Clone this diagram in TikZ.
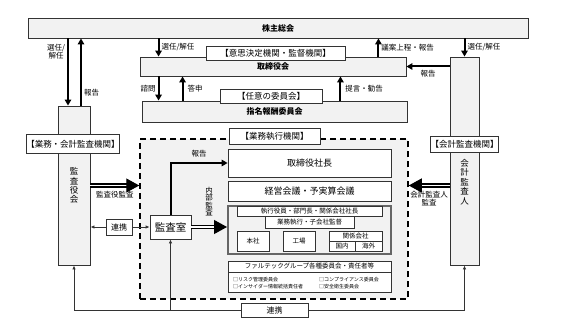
\documentclass[tikz,border=0pt]{standalone}
\usepackage{fontspec}
\setmainfont{Noto Sans CJK JP}
\usetikzlibrary{arrows.meta,positioning,calc}
\definecolor{boxgray}{HTML}{F2F2F2}
\definecolor{dark}{HTML}{333333}
\tikzset{
  box/.style={draw=dark, fill=boxgray, line width=0.9pt, inner sep=0pt, font=\fontsize{8}{9}\selectfont\bfseries},
  tallbox/.style={box, align=center, font=\fontsize{8.5}{9.2}\selectfont},
  tagbox/.style={draw=dark, fill=white, line width=0.8pt, inner sep=0pt, font=\fontsize{8.5}{9}\selectfont},
  whitebox/.style={draw=dark, fill=white, line width=0.8pt, inner sep=0pt, font=\fontsize{9}{10}\selectfont},
  smallbox/.style={whitebox, font=\fontsize{6.5}{7}\selectfont},
  listitem/.style={anchor=west, inner sep=0pt, font=\fontsize{5}{6}\selectfont},
  lbl/.style={inner sep=2pt, font=\fontsize{7.5}{8.5}\selectfont},
  arrow/.style={-{Triangle[length=6pt,width=6.5pt]}, line width=2pt, draw=black},
  dblarrow/.style={-{Triangle[length=13pt,width=14pt]}, draw=black, double=white, double distance=1.8pt, line width=1.2pt},
  thinarrow/.style={-{Latex[length=4pt,width=3.5pt]}, line width=0.8pt, draw=dark}
}
\begin{document}
\begin{tikzpicture}[x=1pt,y=-1pt]
  \useasboundingbox (0,0) rectangle (570,321);
  \node[box, minimum width=500, minimum height=20] (sh) at (278,28) {株主総会};
  \node[box, minimum width=266, minimum height=19] (board) at (273,66.5) {取締役会};
  \node[tagbox, minimum width=139, minimum height=14] (boardtag) at (275.5,53) {【意思決定機関・監督機関】};
  \node[box, minimum width=265, minimum height=21] (nom) at (274.5,111.5) {指名報酬委員会};
  \node[tagbox, minimum width=102, minimum height=14] (nomtag) at (271,96) {【任意の委員会】};

  \node[tallbox, minimum width=32, minimum height=159] (aud) at (74,185.5) {監\\査\\役\\会};
  \node[tagbox, minimum width=92, minimum height=19] (audtag) at (73,144) {【業務・会計監査機関】};
  \node[tallbox, minimum width=29, minimum height=208] (acct) at (464.5,161) {};
  \node[inner sep=0pt, align=center, font=\fontsize{8.5}{9.4}\selectfont] (accttext) at (464.5,182) {会\\計\\監\\査\\人};
  \node[tagbox, minimum width=67, minimum height=16] (accttag) at (464.5,144) {【会計監査機関】};

  \node[draw=black, fill=boxgray, line width=1.5pt, dash pattern=on 6pt off 4pt, minimum width=268, minimum height=160] (exec) at (274,219) {};
  \node[tagbox, minimum width=91, minimum height=16] (exectag) at (274.5,136) {【業務執行機関】};
  \node[whitebox, minimum width=163, minimum height=28] (ceo) at (309.5,163) {取締役社長};
  \node[whitebox, minimum width=163, minimum height=20] (mgmt) at (309.5,191) {経営会議・予実算会議};
  \node[draw=black!60, fill=boxgray, line width=2pt, minimum width=163, minimum height=48] (grp) at (309.5,230) {};
  \node[smallbox, minimum width=145, minimum height=10] (officers) at (309.5,211.5) {執行役員・部門長・関係会社社長};
  \node[smallbox, minimum width=89, minimum height=12] (supv) at (309.5,222) {業務執行・子会社監督};
  \node[smallbox, minimum width=32, minimum height=20] (hq) at (253,241) {本社};
  \node[smallbox, minimum width=32, minimum height=20] (plant) at (299,241) {工場};
  \node[smallbox, minimum width=53, minimum height=10] (affil) at (355.5,236) {関係会社};
  \node[smallbox, minimum width=26, minimum height=10] (dom) at (342,246) {国内};
  \node[smallbox, minimum width=27, minimum height=10] (ovs) at (368.5,246) {海外};
  \node[whitebox, minimum width=163, minimum height=31] (fgrp) at (309.5,276.5) {};
  \node[smallbox, minimum width=163, minimum height=11] (fhead) at (309.5,266.5) {ファルテックグループ各種委員会・責任者等};
  \node[listitem] (risk) at (233,280) {□リスク管理委員会};
  \node[listitem] (insider) at (233,287) {□インサイダー情報統括責任者};
  \node[listitem] (compl) at (319,280) {□コンプライアンス委員会};
  \node[listitem] (safety) at (319,287) {□安全衛生委員会};

  \node[whitebox, minimum width=41, minimum height=24, font=\fontsize{10.5}{11}\selectfont] (office) at (170.5,227) {監査室};
  \node[whitebox, minimum width=26, minimum height=16, font=\fontsize{8}{9}\selectfont] (link) at (119,227) {連携};
  \node[whitebox, minimum width=67, minimum height=14, font=\fontsize{8}{9}\selectfont] (link2) at (274.5,310) {連携};

  \draw[arrow] ([xshift=-6pt]aud.north |- sh.south) -- node[lbl, left, pos=0.2, align=center] {選任/\\解任} ([xshift=-6pt]aud.north);
  \draw[arrow] ([xshift=7pt]aud.north) -- node[lbl, right, pos=0.19] {報告} ([xshift=7pt]aud.north |- sh.south);
  \draw[arrow] ([xshift=19pt]board.north west |- sh.south) -- node[lbl, right] {選任/解任} ([xshift=19pt]board.north west);
  \draw[arrow] ([xshift=-28pt]board.north east) -- node[lbl, right] {議案上程・報告} ([xshift=-28pt]board.north east |- sh.south);
  \draw[arrow] (acct.north |- sh.south) -- node[lbl, right] {選任/解任} (acct.north);
  \draw[arrow] (acct.west |- board.east) -- node[lbl, below, pos=0.5, yshift=-1pt] {報告} (board.east);
  \draw[arrow] ([xshift=19pt]board.south west) -- node[lbl, left] {諮問} ([xshift=19pt]board.south west |- nom.north);
  \draw[arrow] ([xshift=43pt]board.south west |- nom.north) -- node[lbl, right, xshift=2pt] {答申} ([xshift=43pt]board.south west);
  \draw[arrow] ([xshift=-66pt]board.south east |- nom.north) -- node[lbl, right, xshift=2pt] {提言・勧告} ([xshift=-66pt]board.south east);

  \draw[dblarrow] (aud.east) -- node[lbl, below, yshift=-3pt] {監査役監査} (aud.east -| exec.west);
  \draw[dblarrow] (acct.west |- aud.east) -- node[lbl, below, yshift=-3pt, align=center, font=\fontsize{7.5}{8}\selectfont] {会計監査人\\監査} (exec.east |- aud.east);
  \draw[arrow] (office.north) |- node[lbl, above, pos=0.75, yshift=3pt] {報告} (ceo.west);
  \draw[dblarrow] (office.east) -- node[lbl, above, align=center, font=\fontsize{7.5}{7.6}\selectfont, yshift=8pt] {内\\部\\監\\査} (office.east -| grp.west);

  \draw[thinarrow] (link.west) -- (link.west -| aud.east);
  \draw[thinarrow] (link.east) -- (office.west);
  \draw[thinarrow] (link2.west) -| (aud.south);
  \draw[thinarrow] (link2.east) -| (acct.south);
  \coordinate (officebase) at (office.south |- link2.west);
  \draw[thinarrow] (officebase) -- (office.south);
\end{tikzpicture}
\end{document}
